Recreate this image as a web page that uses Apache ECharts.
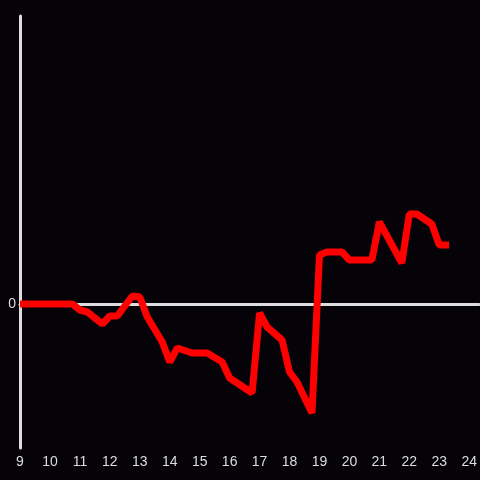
<!DOCTYPE html>
<html>
<head>
<meta charset="utf-8">
<script src="https://cdn.jsdelivr.net/npm/echarts@6/dist/echarts.min.js"></script>
<style>
  html, body { margin: 0; padding: 0; background: #050307; }
  #main { width: 480px; height: 480px; }
</style>
</head>
<body>
<div id="main"></div>
<script>
// hour of day and value
var hours = [9, 10.75, 11, 11.25, 11.75, 12, 12.25, 12.75, 13, 13.25, 13.75, 14, 14.25, 14.75,
  15.25, 15.75, 16, 16.75, 17, 17.25, 17.75, 18, 18.25, 18.75, 19, 19.25, 19.75, 20, 20.75,
  21, 21.75, 22, 22.25, 22.75, 23, 23.33];
var values = [0, 0, -6, -8, -20, -12, -12, 8, 7, -13, -38, -58, -44, -49,
  -49, -58, -74, -89, -9, -23, -36, -68, -78, -109, 49, 52, 52, 44, 44,
  82, 41, 90, 90, 80, 59, 59];
var xTicks = [9, 10, 11, 12, 13, 14, 15, 16, 17, 18, 19, 20, 21, 22, 23, 24];

var points = hours.map(function (h, i) { return [h, values[i]]; });

var chart = echarts.init(document.getElementById('main'));
chart.setOption({
  backgroundColor: '#050307',
  animation: false,
  grid: { left: 20, right: 0, top: 16, bottom: 32 },
  xAxis: [{
    type: 'value',
    min: xTicks[0],
    max: 24.333,
    interval: 1,
    axisLine: { show: false, onZero: false },
    axisTick: { show: false },
    splitLine: { show: false },
    axisLabel: {
      color: '#dddddd', fontSize: 14, fontFamily: 'Liberation Sans', margin: 7,
      showMaxLabel: false,
      formatter: function (v) { return xTicks.indexOf(v) >= 0 ? String(v) : ''; }
    }
  }, {
    type: 'value',
    min: xTicks[0],
    max: 24.333,
    position: 'bottom',
    axisLine: { show: true, onZero: true, lineStyle: { color: '#dddddd', width: 3 } },
    axisTick: { show: false },
    axisLabel: { show: false },
    splitLine: { show: false }
  }],
  yAxis: {
    type: 'value',
    min: -144,
    max: 288,
    interval: 144,
    axisLine: { show: true, lineStyle: { color: '#dddddd', width: 3 } },
    axisTick: { show: false },
    splitLine: { show: false },
    axisLabel: {
      color: '#dddddd', fontSize: 14, fontFamily: 'Liberation Sans', margin: 4,
      formatter: function (v) { return v === 0 ? '0' : ''; }
    }
  },
  series: [{
    type: 'line',
    data: points,
    showSymbol: false,
    z: 5,
    lineStyle: { color: '#ff0000', width: 7 }
  }]
});
</script>
</body>
</html>
